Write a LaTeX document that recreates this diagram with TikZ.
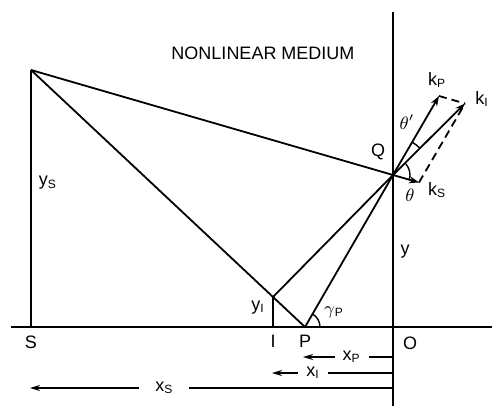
\documentclass[tikz,border=0pt]{standalone}
\usepackage{fontspec}
\setmainfont{Liberation Sans}
\usepackage{tikz}
\usetikzlibrary{arrows.meta}
\tikzset{
  ray/.style={line width=0.9pt},
  wave/.style={line width=0.9pt,-{Stealth[length=5pt,width=3.5pt]}},
  dimline/.style={line width=0.8pt,-{Stealth[length=5pt,width=3pt]}},
  lbl/.style={font=\small,inner sep=1pt},
}

\begin{document}
\begin{tikzpicture}[x=0.5pt,y=0.5pt]
  \useasboundingbox (0,0) rectangle (492,406);
  % points
  \coordinate (T) at (31,336);
  \coordinate (S) at (31,79);
  \coordinate (I) at (273,79);
  \coordinate (YI) at (273,109);
  \coordinate (P) at (305,79);
  \coordinate (O) at (393,79);
  \coordinate (Q) at (393,231);
  \coordinate (KS) at (419,223.5);
  \coordinate (KP) at (439,310);
  \coordinate (KI) at (465,302.5);
  \coordinate (AxL) at (11,79);
  \coordinate (AxR) at (492,79);
  \coordinate (Top) at (393,394);
  \coordinate (Bot) at (393,0);

  % axis and boundary
  \draw[ray] (AxL) -- (AxR);
  \draw[ray] (Top) -- (Bot);
  \draw[ray] (T) -- (S);
  \draw[ray] (YI) -- (I);

  % rays
  \draw[ray] (T) -- (Q);
  \draw[ray] (T) -- (P);
  \draw[ray] (YI) -- (Q);
  \draw[ray] (P) -- (Q);

  % wave vectors
  \draw[wave] (Q) -- (KS);
  \draw[wave] (Q) -- (KP);
  \draw[wave] (Q) -- (KI);
  \draw[ray,dashed,dash pattern=on 4pt off 2.5pt] (KP) -- (KI);
  \draw[ray,dashed,dash pattern=on 4pt off 2.5pt] (KS) -- (KI);

  % angles
  \draw[line width=0.7pt] ([shift={(-16:17)}]Q) arc[start angle=-16,end angle=45,radius=17];
  \draw[line width=0.7pt] ([shift={(45:38)}]Q) arc[start angle=45,end angle=60,radius=38];
  \draw[line width=0.7pt] ([shift={(0:15)}]P) arc[start angle=0,end angle=60,radius=15];

  % labels
  \node[lbl] (medium) at (263,353) {NONLINEAR MEDIUM};
  \node[lbl] (lQ) at (378,254) {Q};
  \node[lbl] (lkp) at (437,326) {k\textsubscript{P}};
  \node[lbl] (lki) at (482,307) {k\textsubscript{I}};
  \node[lbl] (lthp) at (407,284) {$\theta'$};
  \node[lbl] (lth) at (410,211) {$\theta$};
  \node[lbl] (lks) at (437,216) {k\textsubscript{S}};
  \node[lbl] (ly) at (405,154) {y};
  \node[lbl] (lys) at (48,223) {y\textsubscript{S}};
  \node[lbl] (lyi) at (258,98) {y\textsubscript{I}};
  \node[lbl] (lgp) at (334,94) {$\gamma$\textsubscript{P}};
  \node[lbl] (lS) at (31,64) {S};
  \node[lbl] (lI) at (273,65) {I};
  \node[lbl] (lP) at (305,65) {P};
  \node[lbl] (lO) at (410,63) {O};

  % distances
  \coordinate (XPr) at (393,49);
  \coordinate (XPl) at (303,49);
  \coordinate (XIr) at (393,33);
  \coordinate (XIl) at (272,33);
  \coordinate (XSr) at (393,18);
  \coordinate (XSl) at (30,18);
  \draw[dimline] (XPr) -- (XPl) node[pos=0.46,fill=white,lbl,inner xsep=4pt] (lxp) {x\textsubscript{P}};
  \draw[dimline] (XIr) -- (XIl) node[pos=0.66,fill=white,lbl,inner xsep=4pt] (lxi) {x\textsubscript{I}};
  \draw[dimline] (XSr) -- (XSl) node[pos=0.63,fill=white,lbl,inner xsep=8pt] (lxs) {x\textsubscript{S}};
\end{tikzpicture}
\end{document}
